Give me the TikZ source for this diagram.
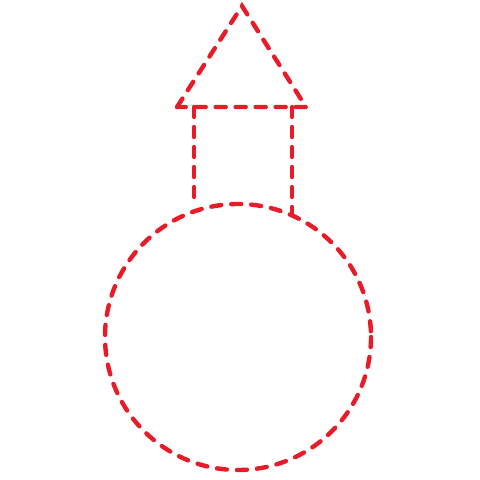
\documentclass[tikz,border=0pt]{standalone}
\definecolor{redline}{RGB}{232,28,40}
\begin{document}
\begin{tikzpicture}[x=1pt,y=-1pt,
  dashline/.style={draw=redline,line width=4.4pt,dash pattern=on 10pt off 10pt,line cap=round}]
\useasboundingbox (0,0) rectangle (480,480);
\coordinate (apex) at (242,6);
\coordinate (bl) at (177,107);
\coordinate (br) at (306,107);
\coordinate (rl) at (194,107);
\coordinate (rr) at (292,107);
\coordinate (c) at (238,337);
% circle
\draw[dashline] (c) circle[radius=133];
% rectangle sides
\draw[dashline] (rl) -- (194,206);
\draw[dashline] (rr) -- (292,214);
% triangle
\draw[dashline] (bl) -- (apex) -- (br) -- cycle;
\end{tikzpicture}
\end{document}
